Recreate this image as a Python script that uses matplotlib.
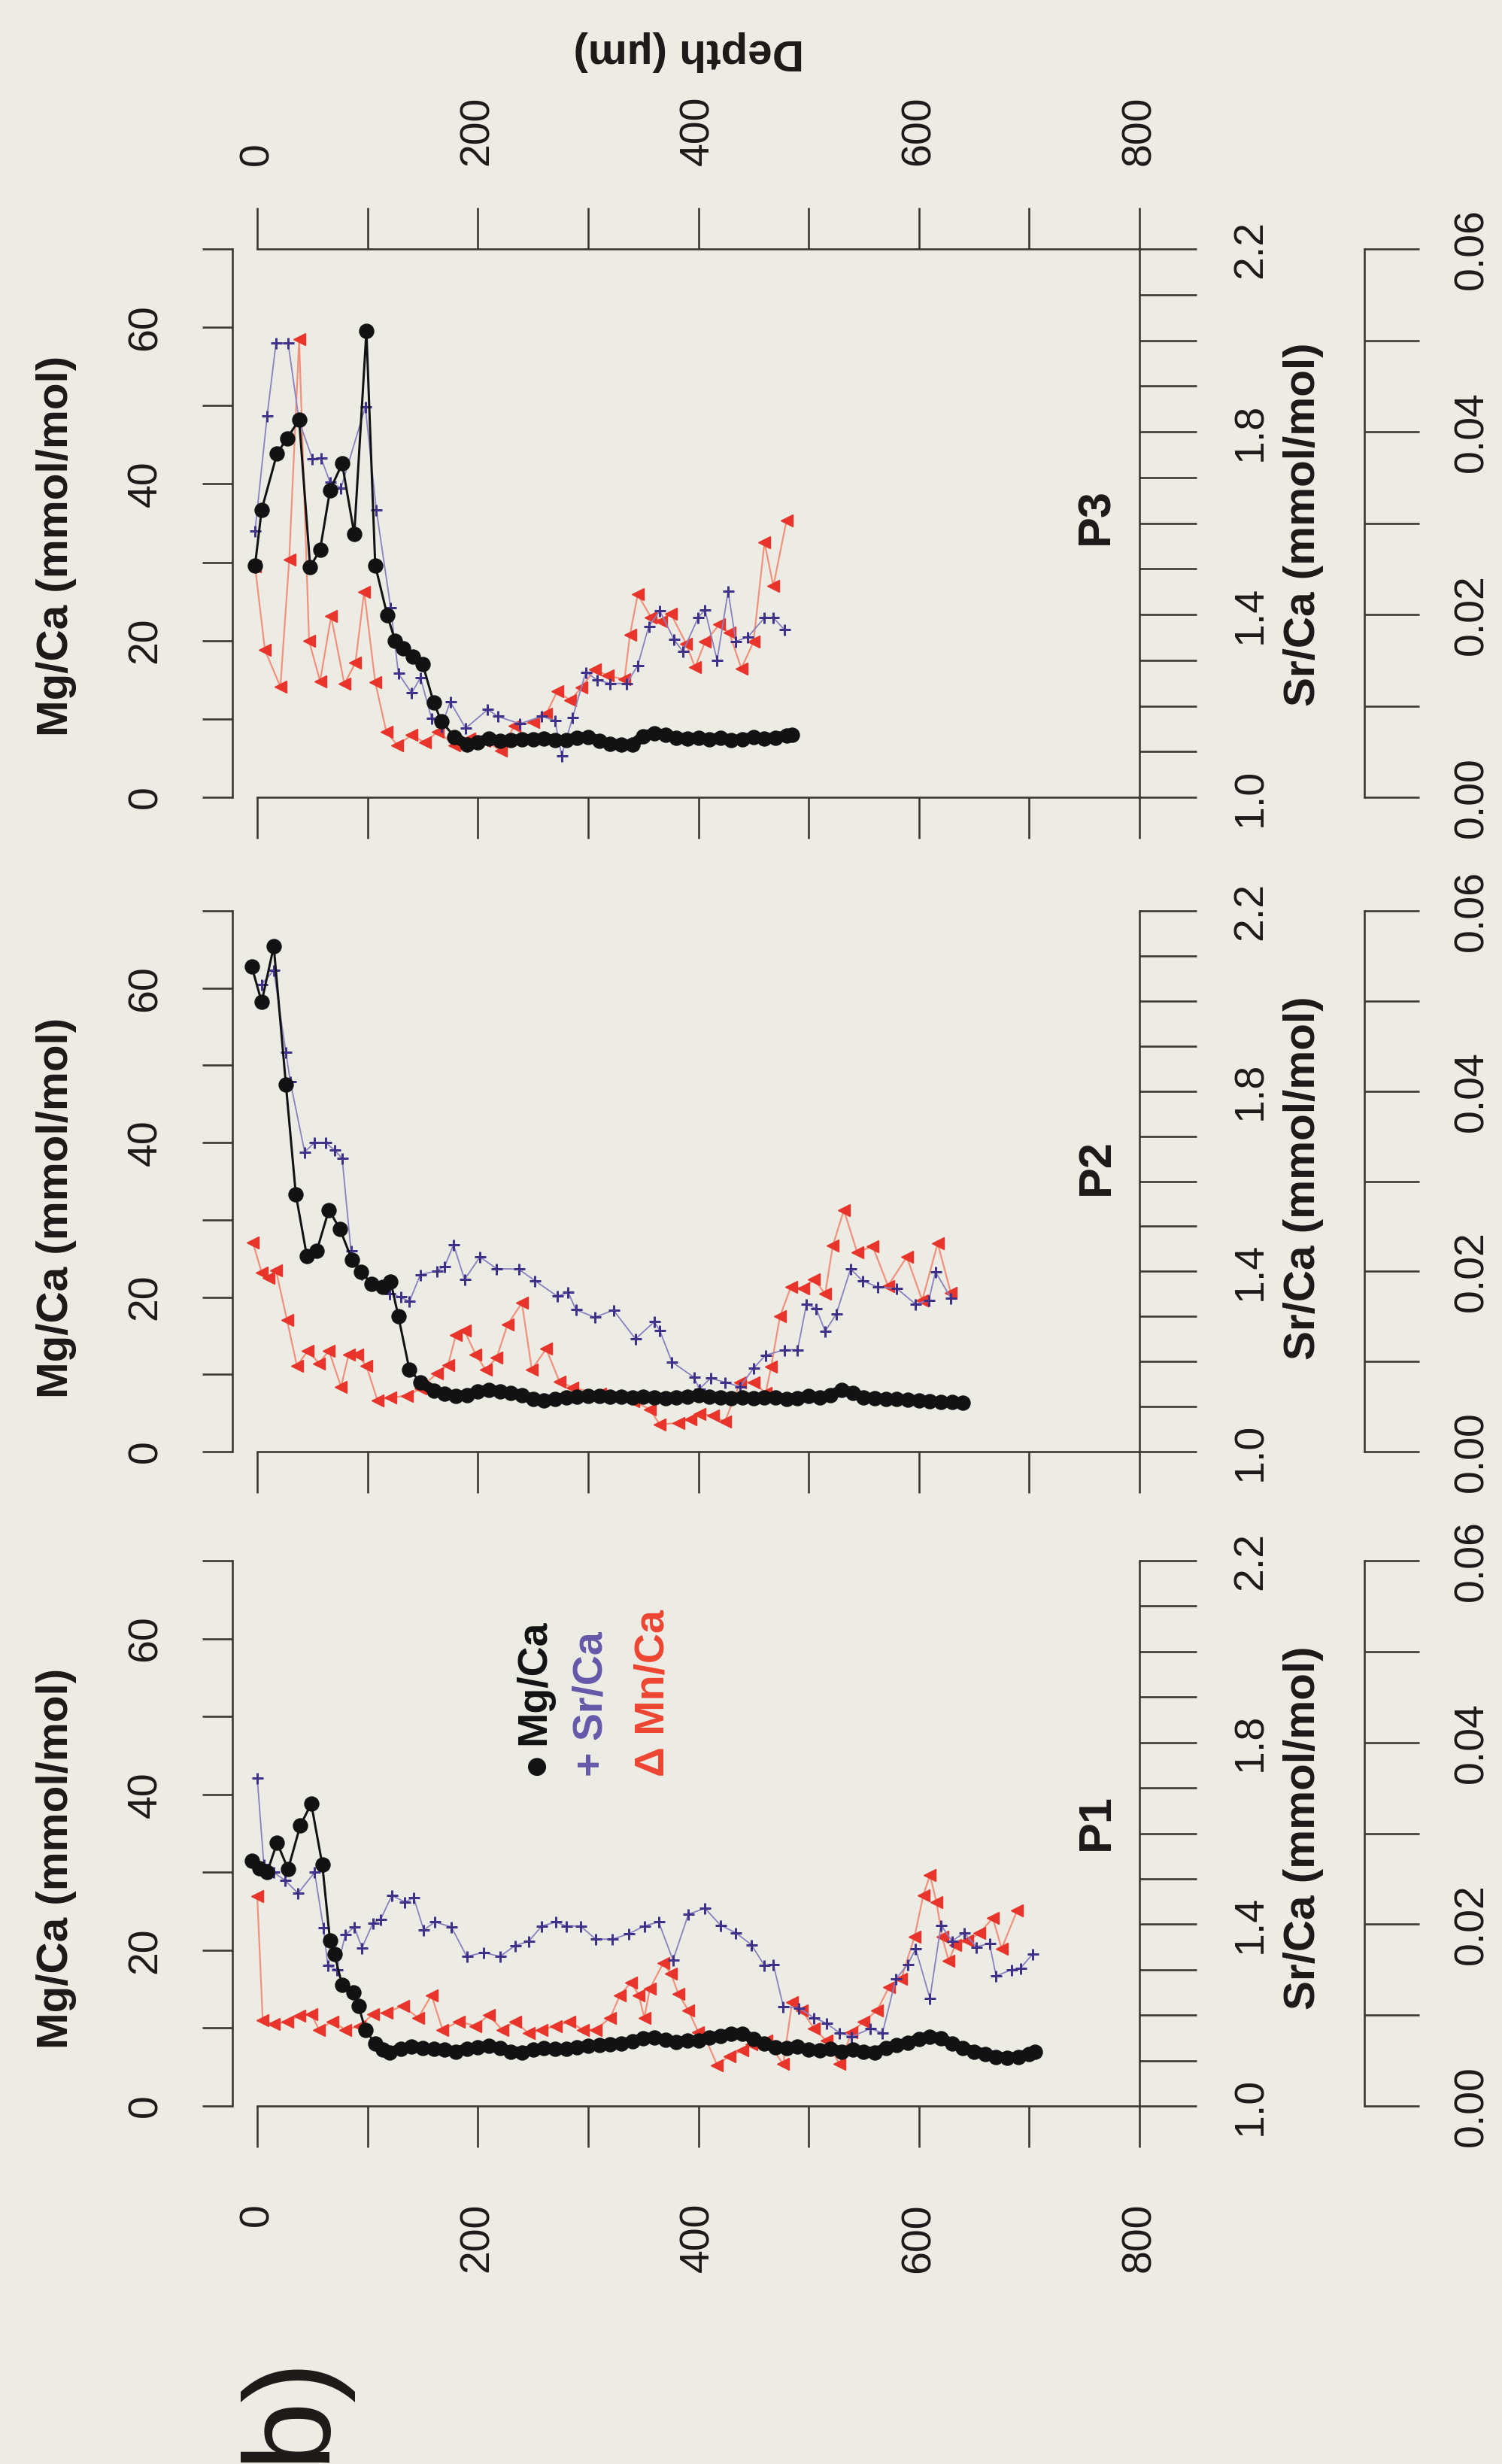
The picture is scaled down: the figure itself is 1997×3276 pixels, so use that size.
import matplotlib
matplotlib.use("Agg")
import matplotlib.pyplot as plt

plt.rcParams['font.family'] = ['Liberation Sans', 'DejaVu Sans']

W, H = 1997, 3276
PT = 0.72  # points per pixel at dpi=100

# ---------------- data (depth in um) ----------------
# Panel P1
p1_mg_depth = [-5, 2, 9, 18, 28, 39, 49, 59, 66, 70, 77, 87, 92, 98, 107, 114,
               120, 130, 140, 150, 160, 170, 180, 190, 200, 210, 220, 230, 240, 250,
               260, 270, 280, 290, 300, 310, 320, 330, 340, 350, 360, 370, 380, 390,
               400, 410, 420, 430, 440, 450, 460, 470, 480, 490, 500, 510, 520, 530,
               540, 550, 560, 570, 580, 590, 600, 610, 620, 630, 640, 650, 660, 670,
               680, 690, 700, 705]
p1_mg = [31.5, 30.5, 30.0, 33.8, 30.4, 36.0, 38.8, 31.0, 21.2, 19.5, 15.5, 14.6, 12.8, 9.8, 8.0, 7.2,
         6.9, 7.3, 7.6, 7.4, 7.3, 7.2, 7.0, 7.3, 7.5, 7.7, 7.4, 7.0, 6.9, 7.2,
         7.4, 7.3, 7.3, 7.5, 7.7, 7.8, 7.9, 8.0, 8.3, 8.7, 8.8, 8.5, 8.2, 8.4,
         8.4, 8.8, 9.0, 9.3, 9.3, 8.6, 8.0, 7.5, 7.4, 7.6, 7.2, 7.1, 7.3, 7.0,
         7.2, 7.0, 6.9, 7.4, 7.8, 8.1, 8.6, 8.9, 8.7, 8.0, 7.4, 7.0, 6.7, 6.3,
         6.2, 6.3, 6.7, 7.0]
p1_sr_depth = [0, 6, 15, 25, 37, 52, 60, 64, 72, 80, 88, 95, 105, 112, 122, 134, 142,
               151, 161, 176, 190, 205, 220, 234, 246, 258, 271, 280, 293, 307, 322,
               337, 351, 364, 377, 391, 406, 420, 434, 448, 460, 468, 477, 491, 505,
               516, 528, 539, 556, 567, 579, 590, 597, 610, 620, 630, 641, 652, 664,
               670, 684, 692, 703]
p1_sr = [1.722, 1.531, 1.514, 1.497, 1.468, 1.514, 1.393, 1.309, 1.300, 1.377, 1.394,
         1.348, 1.403, 1.411, 1.463, 1.449, 1.458, 1.387, 1.405, 1.394, 1.329, 1.338,
         1.329, 1.353, 1.362, 1.396, 1.405, 1.396, 1.396, 1.367, 1.367, 1.379, 1.396,
         1.405, 1.321, 1.422, 1.435, 1.398, 1.381, 1.355, 1.309, 1.312, 1.219, 1.216,
         1.194, 1.182, 1.161, 1.153, 1.170, 1.161, 1.279, 1.312, 1.346, 1.237, 1.398,
         1.363, 1.381, 1.350, 1.358, 1.286, 1.300, 1.303, 1.334]
p1_mn_depth = [0, 5, 15, 27, 38, 49, 56, 68, 80, 93, 105, 117, 132, 146, 158, 168, 183,
               198, 210, 222, 234, 246, 258, 271, 283, 295, 307, 320, 329, 339, 346,
               351, 356, 368, 375, 382, 391, 400, 406, 417, 428, 440, 448, 462, 477,
               485, 494, 505, 516, 528, 539, 550, 562, 573, 584, 596, 604, 610, 616,
               621, 627, 633, 644, 655, 667, 675, 689]
p1_mn = [0.0231, 0.0094, 0.0090, 0.0093, 0.0099, 0.0101, 0.0084, 0.0093, 0.0084, 0.0088,
         0.0101, 0.0103, 0.0110, 0.0097, 0.0122, 0.0084, 0.0093, 0.0088, 0.0100, 0.0084,
         0.0093, 0.0080, 0.0084, 0.0088, 0.0093, 0.0084, 0.0084, 0.0097, 0.0122, 0.0136,
         0.0122, 0.0097, 0.0129, 0.0157, 0.0146, 0.0123, 0.0105, 0.0081, 0.0076, 0.0045,
         0.0055, 0.0061, 0.0068, 0.0072, 0.0046, 0.0114, 0.0105, 0.0085, 0.0072, 0.0046,
         0.0081, 0.0093, 0.0105, 0.0131, 0.0140, 0.0186, 0.0232, 0.0254, 0.0224, 0.0186,
         0.0160, 0.0177, 0.0182, 0.0190, 0.0207, 0.0173, 0.0215]

# Panel P2
p2_mg_depth = [-5, 4, 15, 26, 35, 45, 54, 65, 75, 86, 94, 104, 114, 121, 128, 138, 148,
               160, 170, 180, 190, 200, 210, 220, 230, 240, 250, 260, 270, 280, 290,
               300, 310, 320, 330, 340, 350, 360, 370, 380, 390, 400, 410, 420, 430,
               440, 450, 460, 470, 480, 490, 500, 510, 520, 530, 540, 550, 560, 570,
               580, 590, 600, 610, 620, 630, 640]
p2_mg = [62.8, 58.2, 65.4, 47.5, 33.3, 25.3, 26.0, 31.3, 28.8, 24.8, 23.3, 21.7, 21.3, 22.0,
         17.5, 10.6, 9.0,
         7.9, 7.5, 7.2, 7.3, 7.8, 8.0, 7.8, 7.6, 7.3, 6.8, 6.6, 6.8, 7.0, 7.1,
         7.2, 7.2, 7.1, 7.1, 7.0, 7.1, 7.0, 6.9, 7.0, 7.1, 7.3, 7.1, 7.0, 6.9,
         7.0, 6.9, 7.0, 7.0, 6.8, 6.9, 7.2, 7.0, 7.3, 8.0, 7.6, 7.0, 6.9, 6.8,
         6.8, 6.7, 6.6, 6.5, 6.4, 6.4, 6.3]
p2_sr_depth = [4, 15, 26, 30, 43, 52, 62, 70, 77, 85, 95, 106, 120, 130, 138, 148, 163,
               170, 178, 188, 202, 217, 237, 252, 272, 282, 289, 306, 323, 343, 360,
               365, 376, 396, 401, 411, 424, 438, 450, 461, 478, 490, 498, 507, 515,
               525, 538, 549, 563, 580, 597, 609, 615, 629]
p2_sr = [2.037, 2.068, 1.886, 1.821, 1.665, 1.686, 1.686, 1.669, 1.651, 1.446, 1.394,
         1.372, 1.351, 1.343, 1.333, 1.393, 1.401, 1.411, 1.459, 1.382, 1.432, 1.406,
         1.405, 1.379, 1.345, 1.353, 1.315, 1.298, 1.314, 1.250, 1.288, 1.269, 1.199,
         1.165, 1.139, 1.163, 1.154, 1.144, 1.185, 1.214, 1.226, 1.226, 1.327, 1.317,
         1.267, 1.305, 1.405, 1.379, 1.365, 1.362, 1.327, 1.336, 1.399, 1.341]
p2_mn_depth = [-4, 4, 10, 17, 27, 36, 46, 56, 65, 76, 83, 91, 99, 109, 121, 136, 148,
               163, 173, 180, 188, 198, 207, 217, 227, 240, 249, 262, 274, 286, 311,
               341, 356, 365, 382, 393, 401, 413, 424, 438, 450, 461, 466, 474, 484,
               495, 505, 515, 522, 532, 544, 558, 572, 589, 603, 617, 629]
p2_mn = [0.0232, 0.0199, 0.0193, 0.0201, 0.0146, 0.0095, 0.0112, 0.0098, 0.0112, 0.0072,
         0.0108, 0.0108, 0.0095, 0.0057, 0.0060, 0.0062, 0.0070, 0.0087, 0.0096, 0.0129,
         0.0134, 0.0108, 0.0091, 0.0104, 0.0141, 0.0165, 0.0091, 0.0114, 0.0078, 0.0071,
         0.0064, 0.0056, 0.0047, 0.0030, 0.0032, 0.0036, 0.0042, 0.0040, 0.0033, 0.0077,
         0.0077, 0.0065, 0.0094, 0.0150, 0.0183, 0.0181, 0.0191, 0.0175, 0.0229, 0.0268,
         0.0221, 0.0228, 0.0184, 0.0216, 0.0168, 0.0231, 0.0176]

# Panel P3
p3_mg_depth = [-2, 4, 18, 27, 38, 48, 57, 66, 77, 88, 99, 107, 118, 125, 132, 141, 150,
               160, 167, 179,
               190, 200, 210, 220, 230, 240, 250, 260, 270, 280, 290, 300, 310, 320,
               330, 340, 350, 360, 370, 380, 390, 400, 410, 420, 430, 440, 450, 460,
               470, 480, 485]
p3_mg = [29.6, 36.7, 43.9, 45.8, 48.2, 29.4, 31.6, 39.2, 42.6, 33.6, 59.5, 29.6, 23.2, 20.0,
         19.0, 18.0, 17.0, 12.1, 9.7, 7.7,
         6.7, 7.0, 7.5, 7.2, 7.3, 7.4, 7.4, 7.5, 7.3, 7.3, 7.6, 7.7, 7.2, 6.8,
         6.7, 6.7, 7.8, 8.2, 8.0, 7.6, 7.5, 7.6, 7.4, 7.6, 7.3, 7.4, 7.7, 7.5,
         7.6, 7.9, 8.0]
p3_sr_depth = [-2, 9, 17, 28, 38, 50, 58, 66, 76, 98, 108, 121, 128, 140, 148, 158, 167,
               175, 189, 209, 218, 238, 258, 270, 276, 286, 298, 308, 320, 335, 345,
               355, 365, 378, 386, 400, 406, 417, 427, 434, 445, 460, 468, 478]
p3_sr = [1.583, 1.835, 1.994, 1.994, 1.823, 1.741, 1.742, 1.689, 1.677, 1.854, 1.629,
         1.415, 1.271, 1.228, 1.262, 1.173, 1.154, 1.209, 1.151, 1.192, 1.177, 1.161,
         1.177, 1.168, 1.091, 1.175, 1.274, 1.257, 1.249, 1.249, 1.288, 1.374, 1.408,
         1.345, 1.319, 1.394, 1.410, 1.300, 1.451, 1.341, 1.351, 1.393, 1.393, 1.367]
p3_mn_depth = [-2, 7, 21, 29, 38, 47, 57, 67, 79, 89, 97, 107, 117, 127, 140, 152, 164,
               179, 192, 206, 221, 233, 250, 262, 272, 284, 294, 306, 318, 333, 338,
               345, 357, 366, 375, 389, 397, 406, 419, 428, 439, 450, 460, 468, 480]
p3_mn = [0.0253, 0.0161, 0.0121, 0.0260, 0.0501, 0.0171, 0.0127, 0.0198, 0.0124, 0.0147,
         0.0225, 0.0126, 0.0072, 0.0057, 0.0068, 0.0060, 0.0072, 0.0057, 0.0064, 0.0062,
         0.0051, 0.0078, 0.0082, 0.0091, 0.0116, 0.0106, 0.0120, 0.0140, 0.0133, 0.0129,
         0.0178, 0.0222, 0.0197, 0.0193, 0.0201, 0.0168, 0.0142, 0.0170, 0.0189, 0.0180,
         0.0141, 0.0170, 0.0279, 0.0231, 0.0303]

# axis ticks and labels
depth_ticks = [0, 100, 200, 300, 400, 500, 600, 700, 800]
depth_labels = ['0', '', '200', '', '400', '', '600', '', '800']
mg_ticks = [0, 10, 20, 30, 40, 50, 60, 70]
mg_labels = ['0', '', '20', '', '40', '', '60', '']
sr_ticks = [1.0, 1.1, 1.2, 1.3, 1.4, 1.5, 1.6, 1.7, 1.8, 1.9, 2.0, 2.1, 2.2]
sr_labels = ['1.0', '', '', '', '1.4', '', '', '', '1.8', '', '', '', '2.2']
mn_ticks = [0.0, 0.01, 0.02, 0.03, 0.04, 0.05, 0.06]
mn_labels = ['0.00', '', '0.02', '', '0.04', '', '0.06']

panels = [
    dict(name='P3', ytop=331, ybot=1060, top=True, bottom_labels=False, xpad=56,
         mg_y=726, sr_y=697, p_y=686, dense_from=19,
         mg=(p3_mg_depth, p3_mg), sr=(p3_sr_depth, p3_sr), mn=(p3_mn_depth, p3_mn)),
    dict(name='P2', ytop=1211, ybot=1930, top=False, bottom_labels=False, xpad=74,
         mg_y=1606, sr_y=1566, p_y=1552, dense_from=16,
         mg=(p2_mg_depth, p2_mg), sr=(p2_sr_depth, p2_sr), mn=(p2_mn_depth, p2_mn)),
    dict(name='P1', ytop=2075, ybot=2800, top=False, bottom_labels=True, xpad=74,
         mg_y=2471, sr_y=2430, p_y=2423, dense_from=14,
         mg=(p1_mg_depth, p1_mg), sr=(p1_sr_depth, p1_sr), mn=(p1_mn_depth, p1_mn)),
]

BG = '#ecebe4'
AXC = '#3a3530'
TXT = '#1c1a18'
BLACK = '#121212'
PURPLE = '#3f318a'
PURPLE_LINE = '#8a80c0'
RED = '#e8342a'
RED_LINE = '#f2917b'
LW = 2.6 * PT

fig = plt.figure(figsize=(W / 100, H / 100), dpi=100)
fig.patch.set_facecolor(BG)


def frac_rect(x0, x1, ytop, ybot):
    return [x0 / W, 1 - ybot / H, (x1 - x0) / W, (ybot - ytop) / H]


def ftext(x, y, s, **kw):
    fig.text(x / W, 1 - y / H, s, **kw)


X0, X1 = 342, 1515

for p in panels:
    ax = fig.add_axes(frac_rect(X0, X1, p['ytop'], p['ybot']))
    ax.set_xlim(0, 800)
    ax.set_ylim(0, 70)
    ax.patch.set_visible(False)
    ax.spines['right'].set_visible(False)
    ax.spines['top'].set_visible(p['top'])
    ax.spines['left'].set_position(('outward', 33 * PT))
    ax.spines['left'].set_bounds(0, 70)
    ax.spines['bottom'].set_bounds(0, 800)
    ax.spines['top'].set_bounds(0, 800)
    for sp in ax.spines.values():
        sp.set_color(AXC)
        sp.set_linewidth(LW)
    ax.set_yticks(mg_ticks)
    ax.set_yticklabels(mg_labels, rotation=90, ha='center', va='center')
    ax.tick_params(axis='y', direction='out', length=40 * PT, width=LW, color=AXC,
                   pad=75 * PT, labelsize=40, labelcolor=TXT)
    ax.set_xticks(depth_ticks)
    ax.set_xticklabels(depth_labels, rotation=90)
    ax.tick_params(axis='x', direction='out', length=55 * PT, width=LW, color=AXC,
                   pad=p['xpad'] * PT, labelsize=40, labelcolor=TXT,
                   top=p['top'], labeltop=p['top'], bottom=True,
                   labelbottom=p['bottom_labels'])

    # Sr/Ca axis
    a2 = ax.twinx()
    a2.patch.set_visible(False)
    a2.set_ylim(1.0, 2.2)
    for s in ['left', 'top', 'bottom']:
        a2.spines[s].set_visible(False)
    a2.spines['right'].set_bounds(1.0, 2.2)
    a2.spines['right'].set_color(AXC)
    a2.spines['right'].set_linewidth(LW)
    a2.set_yticks(sr_ticks)
    a2.set_yticklabels(sr_labels, rotation=90, ha='center', va='center')
    a2.tick_params(axis='y', direction='out', length=76 * PT, width=LW, color=AXC,
                   pad=72 * PT, labelsize=40, labelcolor=TXT)

    # Mn/Ca axis
    a3 = ax.twinx()
    a3.patch.set_visible(False)
    a3.set_ylim(0, 0.06)
    for s in ['left', 'top', 'bottom']:
        a3.spines[s].set_visible(False)
    a3.spines['right'].set_position(('outward', 299 * PT))
    a3.spines['right'].set_bounds(0, 0.06)
    a3.spines['right'].set_color(AXC)
    a3.spines['right'].set_linewidth(LW)
    a3.set_yticks(mn_ticks)
    a3.set_yticklabels(mn_labels, rotation=90, ha='center', va='center')
    a3.tick_params(axis='y', direction='out', length=73 * PT, width=LW, color=AXC,
                   pad=70 * PT, labelsize=40, labelcolor=TXT)

    a3.set_zorder(1)
    a2.set_zorder(2)
    ax.set_zorder(3)

    a3.plot(*p['mn'], color=RED_LINE, lw=2.2 * PT, marker='<', ms=16 * PT,
            mfc=RED, mec=RED, clip_on=False)
    a2.plot(*p['sr'], color=PURPLE_LINE, lw=1.8 * PT, marker='+', ms=15 * PT,
            mew=3.0 * PT, mec=PURPLE, clip_on=False)
    mg_d, mg_v = p['mg']
    k = p['dense_from']
    # densely sampled part reads as a thick beaded band
    ax.plot(mg_d[k:], mg_v[k:], color=BLACK, lw=14 * PT, solid_capstyle='round',
            clip_on=False)
    ax.plot(mg_d, mg_v, color=BLACK, lw=3.0 * PT, marker='o', ms=19 * PT,
            mfc=BLACK, mec=BLACK, clip_on=False)

    ftext(75, p['mg_y'], 'Mg/Ca (mmol/mol)', rotation=90, ha='center', va='center',
          fontsize=42, fontweight='bold', color=TXT)
    ftext(1733, p['sr_y'], 'Sr/Ca (mmol/mol)', rotation=90, ha='center', va='center',
          fontsize=42, fontweight='bold', color=TXT)
    ftext(1458, p['p_y'], p['name'], rotation=90, ha='center', va='center',
          fontsize=44, fontweight='bold', color=TXT)

# legend in P1
ftext(712, 2344, '\u25cf', rotation=90, ha='center', va='center',
      fontsize=40, color=BLACK)
ftext(710, 2320, 'Mg/Ca', rotation=90, ha='center', va='bottom',
      fontsize=40, fontweight='bold', color=BLACK)
ftext(786, 2362, '+ Sr/Ca', rotation=90, ha='center', va='bottom',
      fontsize=40, fontweight='bold', color='#6658aa')
ftext(868, 2362, '\u0394 Mn/Ca', rotation=90, ha='center', va='bottom',
      fontsize=40, fontweight='bold', color='#ee4632')

# depth axis title (upside down at top)
ftext(916, 68, 'Depth (\u00b5m)', rotation=180, ha='center', va='center',
      fontsize=42, fontweight='bold', color=TXT)

# panel letter at the lower page edge
ftext(386, 3274, 'b)', rotation=90, ha='center', va='bottom', fontsize=118, color=TXT)

fig.savefig('out.png', dpi=100, facecolor=fig.get_facecolor())
